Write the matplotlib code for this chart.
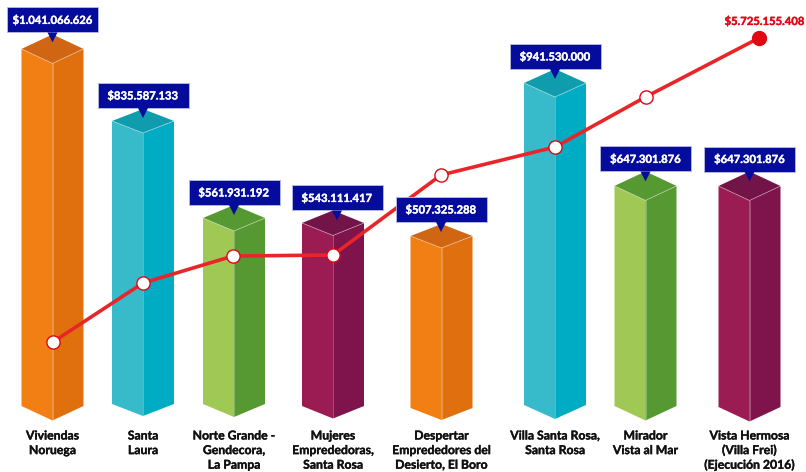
import matplotlib
matplotlib.use("Agg")
import matplotlib.pyplot as plt
import matplotlib.patheffects as pe
from matplotlib.patches import Polygon, Rectangle

projects = ["Viviendas\nNoruega", "Santa\nLaura", "Norte Grande -\nGendecora,\nLa Pampa",
            "Mujeres\nEmpredEdoras,\nSanta Rosa", "Despertar\nEmpredEdores del\nDesierto, El Boro",
            "Villa Santa Rosa,\nSanta Rosa", "Mirador\nVista al Mar",
            "Vista Hermosa\n(Villa Frei)\n(Ejecución 2016)"]
projects = [p.replace("EmpredE", "Emprede") for p in projects]
# monto por proyecto, millones
amounts = [1041.066626, 835.587133, 561.931192, 543.111417, 507.325288, 941.530000, 647.301876, 647.301876]
amount_labels = ["$1.041.066.626", "$835.587.133", "$561.931.192", "$543.111.417",
                 "$507.325.288", "$941.530.000", "$647.301.876", "$647.301.876"]
# linea acumulada (escala propia)
line_values = [1181, 2063, 2466, 2481, 3677, 4095, 4843, 5725]
line_total = "$5.725.155.408"

# layout en pixeles de la imagen
W, H = 806, 472
centers = [52.5, 143, 234, 333, 441.5, 555, 645.5, 749.5]
line_x = [53, 143, 233, 333, 441, 555, 645.5, 759]
box_x = [52.5, 143, 234, 337, 441, 555, 645.5, 749.5]
baseline = [406, 404, 404, 406, 408, 405, 406, 407]
depth = [14.5, 12, 13, 12.5, 12, 14, 14.5, 14.5]
box_gap = [2, 1, 0, 0, 2, 0, 0, 0]
# cada barra del original tiene una escala apenas distinta
px_per_m = [0.343, 0.3387, 0.331, 0.337, 0.339, 0.342, 0.340, 0.3414]
half = 31

colors = [("#f27f14", "#e0700d", "#d06514"),
          ("#37bbcb", "#00acc4", "#0f9dad"),
          ("#a0c855", "#569933", "#569933"),
          ("#9b1c52", "#7f134b", "#731449")]
color_idx = [0, 1, 2, 3, 0, 1, 2, 3]
navy = "#050c9c"
red = "#e8262a"

plt.rcParams["font.family"] = ["Lato", "DejaVu Sans"]

fig = plt.figure(figsize=(W / 100, H / 100), dpi=100)
ax = fig.add_axes([0, 0, 1, 1])
ax.set_xlim(0, W)
ax.set_ylim(H, 0)  # y en pixeles, los montos se convierten abajo
ax.axis("off")

for i, val in enumerate(amounts):
    cx, base, d = centers[i], baseline[i], depth[i]
    top = base - val * px_per_m[i]
    c_l, c_r, c_t = colors[color_idx[i]]
    ax.add_patch(Polygon([(cx - half, top), (cx, top + d), (cx, base + d), (cx - half, base)],
                         fc=c_l, ec="none", zorder=2))
    ax.add_patch(Polygon([(cx, top + d), (cx + half, top), (cx + half, base), (cx, base + d)],
                         fc=c_r, ec="none", zorder=2))
    ax.add_patch(Polygon([(cx - half, top), (cx, top - d), (cx + half, top), (cx, top + d)],
                         fc=c_t, ec="none", zorder=2))
    # aristas claras
    ax.plot([cx - half, cx, cx + half], [top, top + d, top], color="white", lw=0.6, alpha=0.4, zorder=3)
    ax.plot([cx, cx], [top + d, base + d], color="white", lw=0.6, alpha=0.3, zorder=3)

    # etiqueta azul
    bx = box_x[i]
    by = top - d - box_gap[i]
    ax.add_patch(Rectangle((bx - 45.5, by - 25), 91, 25, fc=navy, ec="#b9bce6", lw=0.6, zorder=6))
    ax.add_patch(Polygon([(bx - 5, by), (bx + 5, by), (bx, by + 10)], fc=navy, ec="none", zorder=6))
    ax.text(bx, by - 12.5, amount_labels[i], color="white", fontsize=8.1, fontweight="bold",
            ha="center", va="center", zorder=7,
            path_effects=[pe.withStroke(linewidth=0.25, foreground="white")])

    ax.text(cx, 430.5, projects[i], color="#111111", fontsize=8.8, fontweight="bold",
            ha="center", va="top", linespacing=1.4, zorder=7,
            path_effects=[pe.withStroke(linewidth=0.25, foreground="#111111")])

line_y = [421 - v * 0.0669 for v in line_values]
ax.plot(line_x, line_y, color=red, lw=2.6, zorder=4, solid_capstyle="round")
ax.plot(line_x[:-1], line_y[:-1], "o", ms=9.5, mfc="white", mec="#e30613", mew=1.0, zorder=5)
ax.plot(line_x[-1], line_y[-1], "o", ms=10, mfc="#e30613", mec="#e30613", zorder=5)
ax.text(764.5, 21, line_total, color="#e30613", fontsize=8.1, fontweight="bold", ha="center", va="center", zorder=7,
        path_effects=[pe.withStroke(linewidth=0.25, foreground="#e30613")])

fig.savefig("out.png", dpi=100)
